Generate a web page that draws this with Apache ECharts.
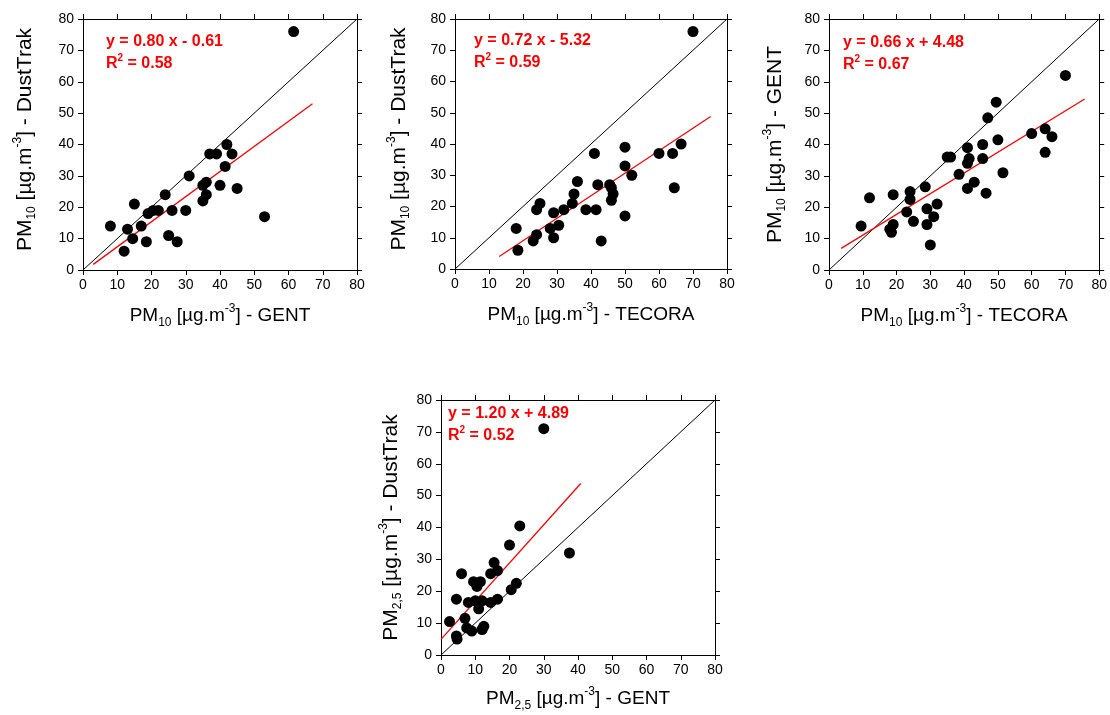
<!DOCTYPE html>
<html>
<head>
<meta charset="utf-8">
<script src="https://cdn.jsdelivr.net/npm/echarts@6/dist/echarts.min.js"></script>
<style>
html,body{margin:0;padding:0;background:#fff;}
#chart{width:1110px;height:715px;}
</style>
</head>
<body>
<div id="chart"></div>
<script>
// ---- data ----
const axisTicks = [0, 10, 20, 30, 40, 50, 60, 70, 80];

const p1x = [61.5, 8, 13, 12, 14.5, 15, 17, 18.5, 19, 20.5, 22, 24, 25, 26, 27.5, 30, 31, 35, 35, 36, 36, 37, 39, 40, 41.5, 42, 43.5, 45, 53];
const p1y = [76, 14, 13, 6, 10, 21, 14, 9, 18, 19, 19, 24, 11, 19, 9, 19, 30, 22, 27, 28, 24, 37, 37, 27, 33, 40, 37, 26, 17];

const p2x = [70, 18, 18.5, 23, 24, 24, 25, 28, 29, 29, 30.5, 32, 34.5, 35, 36, 38.5, 41, 41.5, 42, 43, 45.5, 46, 46.5, 46, 50, 50, 50, 52, 60, 64, 64.5, 66.5];
const p2y = [76, 13, 6, 9, 11, 19, 21, 13, 18, 10, 14, 19, 21, 24, 28, 19, 37, 19, 27, 9, 27, 26, 24, 22, 17, 39, 33, 30, 37, 37, 26, 40];

const p3x = [70, 9.5, 12, 18, 18.5, 19, 19, 23, 24, 24, 25, 28.5, 29, 29, 30, 31, 32, 35, 36, 38.5, 41, 41, 41.5, 41, 43, 45.5, 45.5, 46.5, 47, 49.5, 50, 51.5, 60, 64, 64, 66];
const p3y = [62, 14, 23, 13, 12, 14.5, 24, 18.5, 22.5, 25, 15.5, 26.5, 19.5, 14.5, 8, 17, 21, 36, 36, 30.5, 39, 34, 35.5, 26, 28, 40, 35.5, 24.5, 48.5, 53.5, 41.5, 31, 43.5, 37.5, 45, 42.5];

const p4x = [30, 2.5, 4.5, 4.5, 4.7, 6, 7, 7.5, 8, 9, 9.5, 10, 10.5, 11.5, 11, 12, 12.5, 12, 14.5, 14.5, 15.5, 16.5, 16.5, 20, 20.5, 22, 23, 37.5];
const p4y = [71, 10.5, 17.5, 6, 5, 25.5, 11.5, 8.5, 16.5, 7.5, 23, 17, 21.5, 23, 14.5, 17, 9, 8, 16.5, 25.5, 29, 26.5, 17.5, 34.5, 20.5, 22.5, 40.5, 32];

// 1:1 line
const diagX = [0, 80];
const diagY = [0, 80];
// regression line end points
const fit1x = [3, 67],   fit1y = [1.8, 53];
const fit2x = [13, 75.2], fit2y = [4.0, 48.8];
const fit3x = [3.6, 75.7], fit3y = [6.9, 54.5];
const fit4x = [0, 40.8], fit4y = [4.9, 53.8];

const eqTexts = ['y = 0.80 x - 0.61', 'y = 0.72 x - 5.32', 'y = 0.66 x + 4.48', 'y = 1.20 x + 4.89'];
const r2Texts = ['0.58', '0.59', '0.67', '0.52'];

const xNames = ['PM{sub|10} [µg.m{sup|-3}] - GENT', 'PM{sub|10} [µg.m{sup|-3}] - TECORA', 'PM{sub|10} [µg.m{sup|-3}] - TECORA', 'PM{sub|2,5} [µg.m{sup|-3}] - GENT'];
const yNames = ['PM{sub|10} [µg.m{sup|-3}] - DustTrak', 'PM{sub|10} [µg.m{sup|-3}] - DustTrak', 'PM{sub|10} [µg.m{sup|-3}] - GENT', 'PM{sub|2,5} [µg.m{sup|-3}] - DustTrak'];

// ---- layout ----
const FONT = 'Liberation Sans, Arial, sans-serif';
const grids = [
  {left: 83, top: 19, width: 274, height: 251},
  {left: 455, top: 19, width: 272, height: 250},
  {left: 829, top: 19, width: 272, height: 251},
  {left: 441, top: 400, width: 274, height: 255}
];
const xGaps = [33, 33, 33, 31];
const yGaps = [45, 43, 41, 37];
const yPads = [[0, 0, 0, 10], [0, 0, 0, 10], [0, 0, 0, 0], [0, 0, 0, 0]];
const eqPos = [[106, 31], [474, 30], [843, 32], [448, 403]];

function nameStyle(size, pad) {
  return {
    color: '#000', fontSize: size, fontFamily: FONT, lineHeight: 26, padding: pad,
    rich: {
      sub: {fontSize: 12, lineHeight: 12, verticalAlign: 'bottom', color: '#000', fontFamily: FONT},
      sup: {fontSize: 12, lineHeight: 12, verticalAlign: 'top', color: '#000', fontFamily: FONT}
    }
  };
}
const lineSt = {color: '#000', width: 1};

const xAxes = [], yAxes = [], series = [], titles = [];
const pts = [[p1x, p1y], [p2x, p2y], [p3x, p3y], [p4x, p4y]];
const fits = [[fit1x, fit1y], [fit2x, fit2y], [fit3x, fit3y], [fit4x, fit4y]];

function zip(a, b) { return a.map((v, i) => [v, b[i]]); }

for (let g = 0; g < 4; g++) {
  const common = {
    type: 'value', gridIndex: g, min: axisTicks[0], max: axisTicks[axisTicks.length - 1], interval: axisTicks[1] - axisTicks[0],
    axisLine: {show: true, onZero: false, lineStyle: lineSt},
    axisTick: {show: true, length: 5, inside: false, lineStyle: lineSt},
    splitLine: {show: false}
  };
  xAxes.push(Object.assign({}, common, {
    position: 'bottom',
    axisLabel: {color: '#000', fontSize: 14, fontFamily: FONT, margin: 8},
    name: xNames[g], nameLocation: 'middle', nameGap: xGaps[g], nameTextStyle: nameStyle(19, 0)
  }));
  xAxes.push(Object.assign({}, common, {position: 'top', axisLabel: {show: false}}));
  yAxes.push(Object.assign({}, common, {
    position: 'left',
    axisLabel: {color: '#000', fontSize: 14, fontFamily: FONT, margin: 9},
    name: yNames[g], nameLocation: 'middle', nameGap: yGaps[g], nameRotate: 90, nameTextStyle: nameStyle(21, yPads[g])
  }));
  yAxes.push(Object.assign({}, common, {position: 'right', axisLabel: {show: false}}));

  const xi = g * 2, yi = g * 2;
  series.push({
    type: 'line', xAxisIndex: xi, yAxisIndex: yi, data: zip(diagX, diagY),
    showSymbol: false, silent: true, lineStyle: {color: '#000', width: 1}, z: 2
  });
  series.push({
    type: 'line', xAxisIndex: xi, yAxisIndex: yi, data: zip(fits[g][0], fits[g][1]),
    showSymbol: false, silent: true, lineStyle: {color: '#ff0000', width: 1.3}, z: 3
  });
  series.push({
    type: 'scatter', xAxisIndex: xi, yAxisIndex: yi, data: zip(pts[g][0], pts[g][1]),
    symbol: 'circle', symbolSize: 11, itemStyle: {color: '#000', opacity: 1}, z: 4
  });
  titles.push({
    text: eqTexts[g] + '\nR{sup|2} = ' + r2Texts[g],
    left: eqPos[g][0], top: eqPos[g][1], padding: 0, itemGap: 0,
    textStyle: {
      color: '#ff0000', fontWeight: 'bold', fontSize: 16, fontFamily: FONT, lineHeight: 22,
      rich: {sup: {color: '#ff0000', fontWeight: 'bold', fontSize: 10, lineHeight: 12, verticalAlign: 'top', fontFamily: FONT}}
    }
  });
}

const chart = echarts.init(document.getElementById('chart'), null, {renderer: 'canvas'});
chart.setOption({
  animation: false,
  backgroundColor: '#fff',
  title: titles,
  grid: grids,
  xAxis: xAxes,
  yAxis: yAxes,
  series: series
});
</script>
</body>
</html>
